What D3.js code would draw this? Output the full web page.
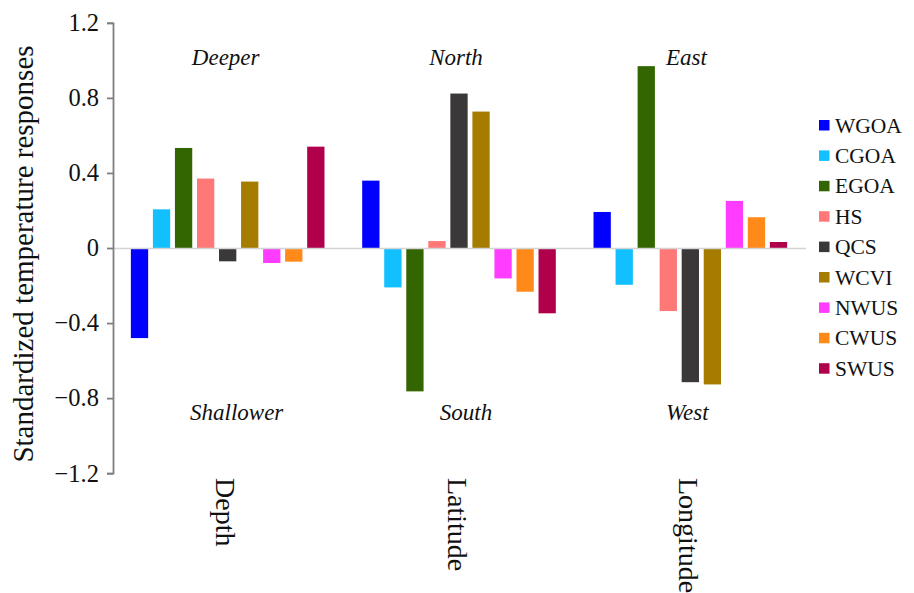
<!DOCTYPE html>
<html>
<head>
<meta charset="utf-8">
<script src="https://cdn.jsdelivr.net/npm/d3@7"></script>
<style>
  html, body { margin: 0; padding: 0; background: #ffffff; }
  svg { display: block; }
  text { font-family: "Liberation Serif", "Times New Roman", serif; fill: #111; }
</style>
</head>
<body>
<svg id="chart" width="914" height="593"></svg>
<script>
// Gradient directions (groups) and regions (series)
const groups = ["Depth", "Latitude", "Longitude"];
const regions = ["WGOA", "CGOA", "EGOA", "HS", "QCS", "WCVI", "NWUS", "CWUS", "SWUS"];
const regionColors = ["#0000ff", "#12bfff", "#336600", "#ff7878", "#3a3838", "#a67c00", "#ff3cff", "#ff8a1a", "#b0004b"];

// Standardized temperature responses, one array per gradient, in region order
const depthValues     = [-0.48, 0.206, 0.533, 0.37, -0.071, 0.354, -0.08, -0.073, 0.54];
const latitudeValues  = [0.359, -0.21, -0.764, 0.037, 0.823, 0.727, -0.162, -0.233, -0.348];
const longitudeValues = [0.192, -0.196, 0.969, -0.336, -0.715, -0.727, 0.251, 0.164, 0.032];

// Direction labels above (positive) and below (negative) each group
const upperLabels = ["Deeper", "North", "East"];
const lowerLabels = ["Shallower", "South", "West"];

// Y axis ticks
const yTickValues = [-1.2, -0.8, -0.4, 0, 0.4, 0.8, 1.2];
const yTickLabels = ["\u22121.2", "\u22120.8", "\u22120.4", "0", "0.4", "0.8", "1.2"];
const yTitle = "Standardized temperature responses";

const seriesByGroup = [depthValues, latitudeValues, longitudeValues];

const svg = d3.select("#chart");

const y = d3.scaleLinear().domain([-1.2, 1.2]).range([473.2, 22.8]);
const x0 = d3.scaleBand().domain(groups).range([112, 806])
  .paddingInner(0.163).paddingOuter(0.0815);
const x1 = d3.scaleBand().domain(regions).range([0, x0.bandwidth()])
  .paddingInner(0.215).paddingOuter(0);
const color = d3.scaleOrdinal().domain(regions).range(regionColors);

// Bars
const groupSel = svg.append("g").selectAll("g")
  .data(groups)
  .join("g")
  .attr("transform", d => `translate(${x0(d)},0)`);

groupSel.selectAll("rect")
  .data((g, gi) => regions.map((r, i) => ({ region: r, value: seriesByGroup[gi][i] })))
  .join("rect")
  .attr("x", d => x1(d.region))
  .attr("width", x1.bandwidth())
  .attr("y", d => y(Math.max(0, d.value)))
  .attr("height", d => Math.abs(y(d.value) - y(0)))
  .attr("fill", d => color(d.region));

// Zero line
svg.append("line")
  .attr("x1", x0.range()[0] + 1).attr("x2", x0.range()[1])
  .attr("y1", y(0) + 0.5).attr("y2", y(0) + 0.5)
  .attr("stroke", "#d4d4d4").attr("stroke-width", 1.6);

// Y axis
const yAxis = d3.axisLeft(y)
  .tickValues(yTickValues)
  .tickFormat((d, i) => yTickLabels[i])
  .tickSize(6).tickPadding(8);

const yAxisG = svg.append("g")
  .attr("transform", `translate(${x0.range()[0] + 1},0)`)
  .call(yAxis);
yAxisG.select(".domain").attr("stroke", "#7f7f7f").attr("stroke-width", 1.8);
yAxisG.selectAll(".tick line").attr("stroke", "#7f7f7f").attr("stroke-width", 1.8);
yAxisG.selectAll(".tick text")
  .style("font-family", "'Liberation Serif', serif")
  .attr("font-size", 24.5).attr("fill", "#111");

// Y axis title
svg.append("text")
  .attr("transform", `translate(33,254) rotate(-90)`)
  .attr("text-anchor", "middle")
  .attr("font-size", 29)
  .text(yTitle);

// Group names, written vertically under each group
svg.append("g").selectAll("text")
  .data(groups)
  .join("text")
  .attr("transform", d => `translate(${x0(d) + x0.bandwidth() / 2},478) rotate(90)`)
  .attr("dy", "0.4em")
  .attr("font-size", 28)
  .text(d => d);

// Direction labels; small per-label nudges from the group centre
const upperNudge = [-2, -3, -4];
const lowerNudge = [9, 7, -3];

svg.append("g").selectAll("text")
  .data(upperLabels)
  .join("text")
  .attr("x", (d, i) => x0(groups[i]) + x0.bandwidth() / 2 + upperNudge[i])
  .attr("y", 65)
  .attr("text-anchor", "middle")
  .attr("font-style", "italic")
  .attr("font-size", 23)
  .text(d => d);

svg.append("g").selectAll("text")
  .data(lowerLabels)
  .join("text")
  .attr("x", (d, i) => x0(groups[i]) + x0.bandwidth() / 2 + lowerNudge[i])
  .attr("y", 420)
  .attr("text-anchor", "middle")
  .attr("font-style", "italic")
  .attr("font-size", 23)
  .text(d => d);

// Legend
const legend = svg.append("g").selectAll("g")
  .data(regions)
  .join("g")
  .attr("transform", (d, i) => `translate(819,${125 + i * 30.4})`);

legend.append("rect")
  .attr("x", 0).attr("y", -5).attr("width", 10.5).attr("height", 10.5)
  .attr("fill", d => color(d));

legend.append("text")
  .attr("x", 16).attr("y", 7.5)
  .attr("font-size", 21.5)
  .text(d => d);
</script>
</body>
</html>
